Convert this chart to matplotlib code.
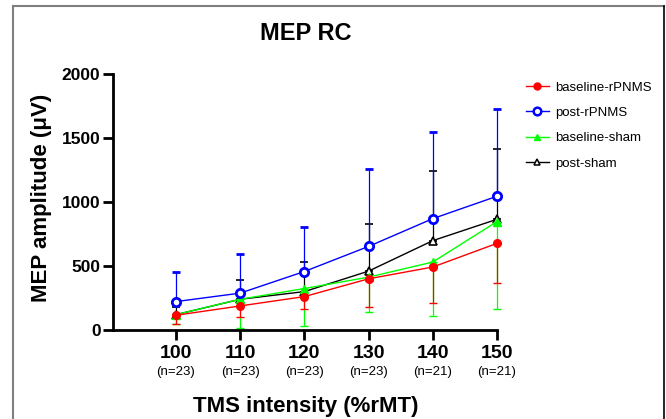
import matplotlib
matplotlib.use("Agg")
import matplotlib.pyplot as plt
import matplotlib.transforms as mtransforms
from matplotlib.lines import Line2D

plt.rcParams['font.family'] = ['Liberation Sans', 'DejaVu Sans']

intensity = [100, 110, 120, 130, 140, 150]
n_labels = ["(n=23)", "(n=23)", "(n=23)", "(n=23)", "(n=21)", "(n=21)"]

baseline_rpnms = [115, 188, 261, 400, 492, 677]
baseline_rpnms_err = [70, 86, 96, 217, 280, 311]      # drawn downward

post_rpnms = [222, 288, 457, 653, 870, 1045]
post_rpnms_err = [230, 302, 345, 601, 680, 685]       # drawn upward

baseline_sham = [120, 240, 324, 413, 531, 847]
baseline_sham_err = [70, 227, 293, 272, 424, 680]     # drawn downward

post_sham = [120, 240, 300, 460, 698, 865]
post_sham_err = [58, 152, 235, 365, 543, 546]         # drawn upward

W, H = 666, 419
fig = plt.figure(figsize=(W / 100, H / 100), dpi=100)
ax = fig.add_axes([113 / W, (H - 330) / H, 384 / W, 256 / H])

series = [
    ("post-sham", post_sham, post_sham_err, "up", "black", "^", "white", 6, 1.2, 1),
    ("baseline-sham", baseline_sham, baseline_sham_err, "down", "#00FF00", "^", "#00FF00", 6, 1.0, 2),
    ("baseline-rPNMS", baseline_rpnms, baseline_rpnms_err, "down", "#FF0000", "o", "#FF0000", 5.5, 1.0, 3),
    ("post-rPNMS", post_rpnms, post_rpnms_err, "up", "#0000FF", "o", "white", 6, 2.0, 4),
]

for name, vals, errs, direction, col, mk, mfc, ms, mew, z in series:
    lower = errs if direction == "down" else [0] * len(errs)
    upper = errs if direction == "up" else [0] * len(errs)
    ax.errorbar(intensity, vals, yerr=[lower, upper], color=col, lw=1.0,
                elinewidth=0.9, capsize=3, capthick=0.9, marker=mk, ms=ms,
                mfc=mfc, mec=col, mew=mew, zorder=z, clip_on=False)

ax.set_xlim(90.2, 150)
ax.set_ylim(0, 2000)
ax.set_yticks([0, 500, 1000, 1500, 2000])
ax.set_yticklabels(["0", "500", "1000", "1500", "2000"], fontsize=12.5, fontweight="bold")
ax.set_xticks(intensity)
ax.set_xticklabels([str(v) for v in intensity], fontsize=14, fontweight="bold")
for s in ["top", "right"]:
    ax.spines[s].set_visible(False)
for s in ["left", "bottom"]:
    ax.spines[s].set_linewidth(2)
ax.tick_params(axis="both", width=2, length=7, direction="out")
ax.tick_params(axis="y", pad=2)
ax.tick_params(axis="x", pad=4)

trans = mtransforms.blended_transform_factory(ax.transData, fig.transFigure)
for x, lab in zip(intensity, n_labels):
    ax.text(x, 1 - 372 / H, lab, transform=trans, ha="center", va="center", fontsize=9.5)

fig.text(306 / W, 1 - 34 / H, "MEP RC", ha="center", va="center", fontsize=17, fontweight="bold")
fig.text(306 / W, 1 - 406 / H, "TMS intensity (%rMT)", ha="center", va="center", fontsize=16, fontweight="bold")
fig.text(42 / W, 1 - 198 / H, "MEP amplitude (\u03bcV)", ha="center", va="center", rotation=90,
         fontsize=16, fontweight="bold")

# legend
handles = [
    Line2D([], [], color="#FF0000", marker="o", ms=5, mfc="#FF0000", mec="#FF0000", lw=1),
    Line2D([], [], color="#0000FF", marker="o", ms=5.5, mfc="white", mec="#0000FF", mew=1.8, lw=1),
    Line2D([], [], color="#00FF00", marker="^", ms=5, mfc="#00FF00", mec="#00FF00", lw=1),
    Line2D([], [], color="black", marker="^", ms=5, mfc="white", mec="black", mew=1.1, lw=1),
]
labels = ["baseline-rPNMS", "post-rPNMS", "baseline-sham", "post-sham"]
fig.legend(handles, labels, loc="upper left", bbox_to_anchor=(521 / W, 1 - 76 / H),
           frameon=False, fontsize=9.5, handlelength=1.7, handletextpad=0.5,
           labelspacing=1.0, borderaxespad=0)

# figure frame (top/left grey, right dark)
top_y = (H - 6) / H
fig.add_artist(Line2D([13 / W, 13 / W], [0, top_y], transform=fig.transFigure, color="#7f7f7f", lw=1.5))
fig.add_artist(Line2D([13 / W, 664 / W], [top_y, top_y], transform=fig.transFigure, color="#7f7f7f", lw=1.5))
fig.add_artist(Line2D([664 / W, 664 / W], [0, top_y], transform=fig.transFigure, color="black", lw=1.2))

fig.savefig("out.png", dpi=100)
